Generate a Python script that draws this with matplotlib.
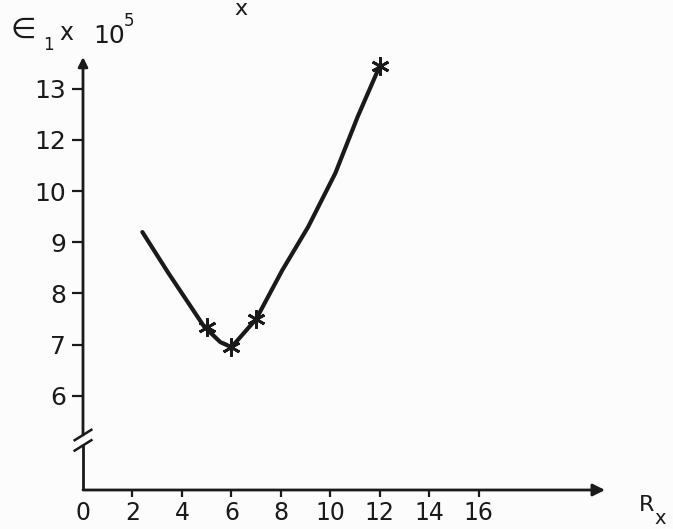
import numpy as np
import matplotlib
matplotlib.use("Agg")
import matplotlib.pyplot as plt

# measured points (stars) and the hand-drawn trend curve through them
rx_pts = [5, 6, 7, 12]
eps_pts = [7.35, 6.95, 7.5, 13.45]

rx_curve = [2.4, 3.45, 4.9, 5.55, 6.0, 7.0, 8.05, 9.1, 10.2, 11.1, 12.0]
eps_curve = [9.2, 8.4, 7.35, 7.05, 6.95, 7.5, 8.45, 9.3, 10.7, 12.45, 13.45]

xticks = [0, 2, 4, 6, 8, 10, 12, 14, 16]
yticks = [6, 7, 8, 9, 10, 12, 13]
ytick_labels = ["6", "7", "8", "9", "10", "12", "13"]

INK = "#1a1a1a"

# the y axis ticks are equally spaced even though the labels skip 11
_yv = np.array(yticks, float)
_yp = np.arange(len(yticks), dtype=float)

def fwd(v):
    v = np.asarray(v, float)
    out = np.interp(v, _yv, _yp)
    out = np.where(v < _yv[0], v - _yv[0], out)
    out = np.where(v > _yv[-1], _yp[-1] + (v - _yv[-1]), out)
    return out

def inv(p):
    p = np.asarray(p, float)
    out = np.interp(p, _yp, _yv)
    out = np.where(p < 0, _yv[0] + p, out)
    out = np.where(p > _yp[-1], _yv[-1] + (p - _yp[-1]), out)
    return out

W, H = 673, 529
fig = plt.figure(figsize=(W / 100, H / 100), dpi=100, facecolor="#fcfcfc")
ax = fig.add_axes([83 / W, 1 - 490 / H, (605 - 83) / W, (490 - 57) / H])
ax.set_facecolor("none")
ax.set_yscale("function", functions=(fwd, inv))
ax.set_xlim(0, 21.1)
ax.set_ylim(4.16, 13.62)

for s in ax.spines.values():
    s.set_visible(False)

ax.set_xticks(xticks)
ax.set_xticklabels([str(t) for t in xticks])
ax.set_yticks(yticks)
ax.set_yticklabels(ytick_labels)
ax.yaxis.set_minor_locator(matplotlib.ticker.NullLocator())
ax.tick_params(axis="y", direction="out", length=8, width=1.6, color=INK,
               labelsize=18, labelcolor=INK, pad=4)
ax.tick_params(axis="x", direction="out", length=5, width=1.6, color=INK,
               labelsize=17, labelcolor=INK, pad=3)
ax.xaxis.get_major_ticks()[0].tick1line.set_visible(False)

# axes drawn as arrows, with a break near the bottom of the y axis
brk = 0.115
arrow = dict(arrowstyle="-|>", lw=2.0, color=INK, mutation_scale=18,
             shrinkA=0, shrinkB=0)
ax.annotate("", xy=(1.0, 0), xytext=(0, 0), xycoords="axes fraction",
            arrowprops=arrow)
ax.annotate("", xy=(0, 1.0), xytext=(0, brk + 0.012), xycoords="axes fraction",
            arrowprops=dict(arrow, mutation_scale=14))
ax.plot([0, 0], [0, brk - 0.012], color=INK, lw=2.0, transform=ax.transAxes,
        clip_on=False, solid_capstyle="butt")
for dy in (-0.012, 0.012):
    ax.plot([-0.016, 0.016], [brk + dy - 0.012, brk + dy + 0.012], color=INK,
            lw=1.8, transform=ax.transAxes, clip_on=False)

ax.plot(rx_curve, eps_curve, color=INK, lw=3.0, solid_joinstyle="round",
        solid_capstyle="round", clip_on=False)
ax.plot(rx_pts, eps_pts, linestyle="none", marker=(6, 2, 0), ms=13, mew=2.0,
        color=INK, clip_on=False)

# y axis title: epsilon_1 x 10^5
def ftext(x, y, s, size):
    fig.text(x / W, 1 - y / H, s, fontsize=size, color=INK, va="baseline")

ftext(11, 38, "\u2208", 21)
ftext(43, 50, "1", 12)
ftext(59, 40, "x", 17)
ftext(93, 43, "10", 18)
ftext(124, 26, "5", 12)

ftext(234, 15, "x", 16)
ftext(639, 511, "R", 16)
ftext(654, 524, "x", 14)

fig.savefig("out.png", dpi=100, facecolor=fig.get_facecolor())
